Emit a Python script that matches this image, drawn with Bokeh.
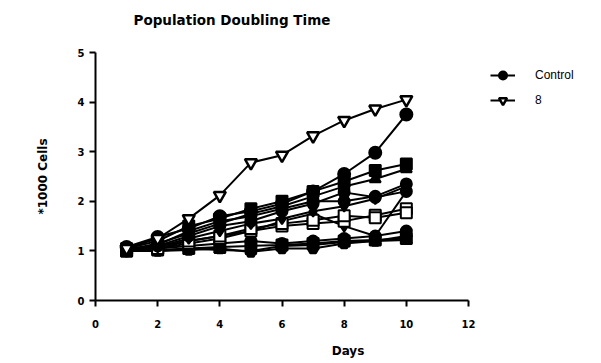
from bokeh.plotting import figure
from bokeh.models import Range1d, Legend, LegendItem, FixedTicker, Title
from bokeh.embed import file_html
from bokeh.resources import INLINE

days = [1, 2, 3, 4, 5, 6, 7, 8, 9, 10]
control = [1.08, 1.28, 1.45, 1.70, 1.80, 1.95, 2.20, 2.55, 2.98, 3.75]
s8 = [1.05, 1.25, 1.65, 2.12, 2.78, 2.93, 3.32, 3.63, 3.86, 4.05]
s_a = [1.05, 1.20, 1.50, 1.65, 1.85, 2.00, 2.20, 2.40, 2.62, 2.75]
s_b = [1.02, 1.15, 1.35, 1.55, 1.75, 1.90, 2.10, 2.30, 2.45, 2.65]
s_c = [1.00, 1.10, 1.30, 1.50, 1.60, 1.80, 1.95, 2.18, 2.08, 2.20]
s_d = [1.03, 1.12, 1.40, 1.60, 1.70, 1.85, 2.00, 2.00, 2.10, 2.35]
s_e = [1.00, 1.08, 1.25, 1.40, 1.55, 1.65, 1.80, 1.90, 2.05, 2.30]
s_f = [1.02, 1.05, 1.20, 1.30, 1.45, 1.55, 1.62, 1.71, 1.67, 1.77]
s_g = [1.00, 1.05, 1.15, 1.25, 1.40, 1.50, 1.55, 1.60, 1.72, 1.85]
s_h = [1.00, 1.02, 1.05, 1.08, 1.10, 1.12, 1.15, 1.20, 1.22, 1.25]
s_i = [1.00, 1.00, 1.02, 1.05, 0.98, 1.05, 1.05, 1.15, 1.20, 1.30]
s_j = [1.02, 1.05, 1.10, 1.15, 1.20, 1.15, 1.20, 1.25, 1.30, 1.40]
s_k = [1.05, 1.10, 1.20, 1.30, 1.40, 1.60, 1.75, 1.50, 1.30, 2.20]
s_l = [1.00, 1.00, 1.05, 1.02, 1.00, 1.10, 1.12, 1.18, 1.20, 1.22]

x_ticks = [0, 2, 4, 6, 8, 10, 12]
y_ticks = [0, 1, 2, 3, 4, 5]
x_axis_max = 12

BOLD = "DejaVu Sans"
FRAME_W = 505          # frame spans axis area plus legend area on the right
AXIS_W = 373           # pixel length of the 0..12 axis

p = figure(width=600, height=362, output_backend="svg", toolbar_location=None,
           x_range=Range1d(0, x_axis_max * FRAME_W / AXIS_W), y_range=Range1d(0, 5),
           min_border_left=95, min_border_right=0, min_border_top=52, min_border_bottom=62)
p.outline_line_color = None
p.grid.visible = False
p.background_fill_color = "white"

# spacer between the frame and the title
p.add_layout(Title(text=" ", text_font_size="1px", standoff=13), "above")

p.title.text = "Population Doubling Time"
p.title.text_font = BOLD
p.title.text_font_size = "13.5px"
p.title.text_font_style = "bold"
p.title.text_color = "black"
p.title.align = "left"
p.title.offset = 38
p.title.standoff = 17

for ax in (p.xaxis[0], p.yaxis[0]):
    ax.axis_line_width = 2
    ax.major_tick_line_width = 2
    ax.major_tick_out = 6
    ax.major_tick_in = 0
    ax.minor_tick_out = 0
    ax.minor_tick_in = 0
    ax.major_label_text_font = BOLD
    ax.major_label_text_font_style = "bold"
    ax.major_label_text_font_size = "10px"
    ax.major_label_text_color = "black"
    ax.axis_label_text_font = BOLD
    ax.axis_label_text_font_style = "bold"
    ax.axis_label_text_font_size = "12px"
    ax.axis_label_text_color = "black"

p.xaxis.ticker = FixedTicker(ticks=x_ticks)
p.yaxis.ticker = FixedTicker(ticks=y_ticks)
p.xaxis.bounds = (0, x_axis_max)
p.xaxis.axis_label = "Days"
p.yaxis.axis_label = "*1000 Cells"
p.xaxis.major_label_standoff = 13
p.yaxis.major_label_standoff = 5
p.xaxis.axis_label_standoff = 13
p.yaxis.axis_label_standoff = 25

series = [
    (s_l, "triangle", "black"), (s_i, "hex", "black"), (s_h, "square", "black"),
    (s_j, "circle", "black"), (s_k, "diamond", "black"), (s_g, "square", "white"),
    (s_f, "square", "white"), (s_e, "diamond", "black"), (s_d, "circle", "black"),
    (s_c, "circle", "black"), (s_b, "triangle", "black"), (s_a, "square", "black"),
]
for ys, mk, fc in series:
    p.line(days, ys, line_color="black", line_width=2)
    p.scatter(days, ys, marker=mk, size=11, fill_color=fc, line_color="black", line_width=2)

lc = p.line(days, control, line_color="black", line_width=2)
sc = p.scatter(days, control, marker="circle", size=12, fill_color="black", line_color="black", line_width=2)
l8 = p.line(days, s8, line_color="black", line_width=2)
sc8 = p.scatter(days, s8, marker="inverted_triangle", size=12, fill_color="white", line_color="black", line_width=2.5)

legend = Legend(items=[LegendItem(label="Control", renderers=[lc, sc]),
                       LegendItem(label="8", renderers=[l8, sc8])],
                location=(395, 190), border_line_color=None, background_fill_alpha=0,
                padding=0, margin=0, spacing=5, glyph_width=25, glyph_height=20,
                label_height=20, label_standoff=20, label_text_font="Liberation Sans",
                label_text_font_size="12px", label_text_color="black")
p.add_layout(legend, "center")

open("out.html", "w").write(file_html(p, INLINE))
